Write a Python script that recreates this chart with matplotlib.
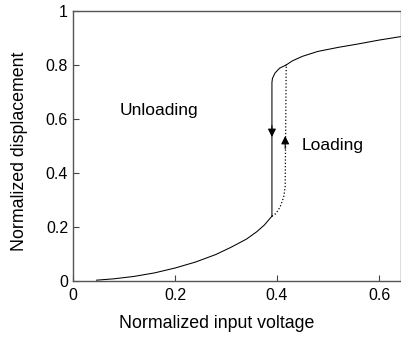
import matplotlib
matplotlib.use('Agg')
import matplotlib.pyplot as plt

plt.rcParams['font.family'] = ['Liberation Sans', 'DejaVu Sans']

# shared lower branch
common_x = [0.046, 0.08, 0.12, 0.16, 0.2, 0.24, 0.28, 0.31, 0.34, 0.36, 0.375, 0.39]
common_y = [0.003, 0.008, 0.017, 0.03, 0.048, 0.07, 0.098, 0.125, 0.155, 0.182, 0.207, 0.24]

# shared upper branch
upper_x = [0.418, 0.43, 0.45, 0.48, 0.52, 0.56, 0.6, 0.643]
upper_y = [0.80, 0.815, 0.832, 0.85, 0.865, 0.878, 0.892, 0.905]

# unloading jump (solid)
unload_x = [0.418, 0.405, 0.396, 0.391, 0.39, 0.39]
unload_y = [0.80, 0.788, 0.77, 0.75, 0.735, 0.24]

# loading jump (dotted)
load_x = [0.39, 0.398, 0.406, 0.413, 0.416, 0.418]
load_y = [0.24, 0.25, 0.274, 0.31, 0.35, 0.80]

fig = plt.figure(figsize=(4.01, 3.41), dpi=100)
ax = fig.add_axes([0.182, 0.176, 0.818, 0.792])

ax.plot(common_x, common_y, 'k-', lw=0.75)
ax.plot(upper_x, upper_y, 'k-', lw=0.75)
ax.plot(unload_x, unload_y, 'k-', lw=0.75)
ax.plot(load_x, load_y, 'k:', lw=0.9)

ax.annotate('', xy=(0.39, 0.533), xytext=(0.39, 0.575),
            arrowprops=dict(arrowstyle='-|>', color='k', lw=0.8,
                            mutation_scale=12, shrinkA=0, shrinkB=0))
ax.annotate('', xy=(0.416, 0.537), xytext=(0.416, 0.49),
            arrowprops=dict(arrowstyle='-|>', color='k', lw=0.8,
                            mutation_scale=12, shrinkA=0, shrinkB=0))

ax.text(0.092, 0.63, 'Unloading', fontsize=12.5, va='center', ha='left')
ax.text(0.449, 0.50, 'Loading', fontsize=12.5, va='center', ha='left')

ax.set_xlim(0, 0.643)
ax.set_ylim(0, 1)
ax.set_xticks([0, 0.2, 0.4, 0.6])
ax.set_xticklabels(['0', '0.2', '0.4', '0.6'])
ax.set_yticks([0, 0.2, 0.4, 0.6, 0.8, 1])
ax.set_yticklabels(['0', '0.2', '0.4', '0.6', '0.8', '1'])
ax.tick_params(direction='in', length=4, labelsize=11.5, width=0.8, color='#444444')
ax.tick_params(axis='x', pad=5)
for s in ax.spines.values():
    s.set_color('#555555')
    s.set_linewidth(1.0)

ax.set_xlabel('Normalized input voltage', fontsize=12.8, va='center')
ax.set_ylabel('Normalized displacement', fontsize=12.8, va='center')
ax.xaxis.set_label_coords(0.439, -0.156)
ax.yaxis.set_label_coords(-0.162, 0.48)

fig.savefig('out.png', dpi=100)
plt.close(fig)
